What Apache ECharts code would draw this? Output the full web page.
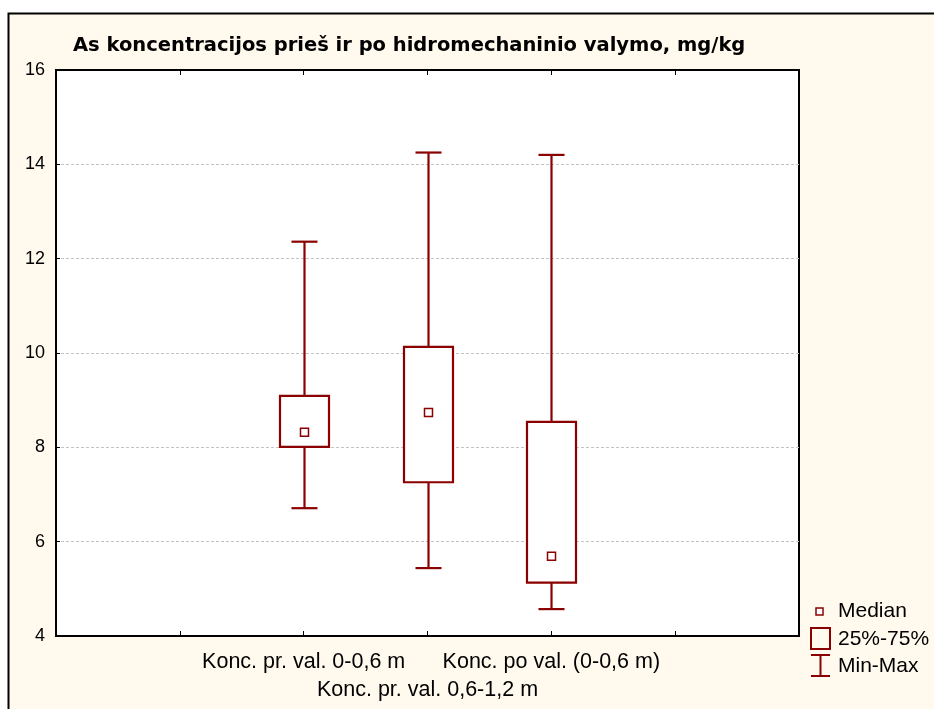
<!DOCTYPE html>
<html>
<head>
<meta charset="utf-8">
<script src="https://cdn.jsdelivr.net/npm/echarts@6/dist/echarts.min.js"></script>
<style>
html,body{margin:0;padding:0;background:#fff;}
#c{width:934px;height:709px;}
</style>
</head>
<body>
<div id="c"></div>
<script>
// ---- data ----
const titleText = 'As koncentracijos prieš ir po hidromechaninio valymo, mg/kg';
const categories = ['Konc. pr. val. 0-0,6 m', 'Konc. pr. val. 0,6-1,2 m', 'Konc. po val. (0-0,6 m)'];
const minValues    = [6.71, 5.44, 4.57];
const q1Values     = [8.01, 7.26, 5.13];
const medianValues = [8.32, 8.74, 5.69];
const q3Values     = [9.09, 10.13, 8.54];
const maxValues    = [12.36, 14.25, 14.20];
const yTicks = [4, 6, 8, 10, 12, 14, 16];
const legendLabels = ['Median', '25%-75%', 'Min-Max'];

// axis slots: two empty slots on each side of the three groups
const pad = ['', ''];
const xSlots = pad.concat(categories, pad);
const seriesData = categories.map((c, i) => [i + pad.length, minValues[i], q1Values[i], medianValues[i], q3Values[i], maxValues[i]]);

const RED = '#8b0000';
const FONT = 'Liberation Sans, Arial, sans-serif';

const chart = echarts.init(document.getElementById('c'), null, {renderer: 'canvas'});

function renderBox(params, api) {
  const xi = api.value(0);
  const pMin = api.coord([xi, api.value(1)]);
  const pQ1 = api.coord([xi, api.value(2)]);
  const pMed = api.coord([xi, api.value(3)]);
  const pQ3 = api.coord([xi, api.value(4)]);
  const pMax = api.coord([xi, api.value(5)]);
  const cx = Math.round(pMed[0]) + 0.5;
  const bw = 49, cw = 26, ms = 8;
  const ls = {stroke: RED, lineWidth: 2.2, fill: null};
  return {
    type: 'group',
    children: [
      {type: 'line', shape: {x1: cx, y1: pQ3[1], x2: cx, y2: pMax[1]}, style: ls},
      {type: 'line', shape: {x1: cx, y1: pQ1[1], x2: cx, y2: pMin[1]}, style: ls},
      {type: 'line', shape: {x1: cx - cw / 2, y1: pMax[1], x2: cx + cw / 2, y2: pMax[1]}, style: ls},
      {type: 'line', shape: {x1: cx - cw / 2, y1: pMin[1], x2: cx + cw / 2, y2: pMin[1]}, style: ls},
      {type: 'rect', shape: {x: cx - bw / 2, y: pQ3[1], width: bw, height: pQ1[1] - pQ3[1]}, style: {stroke: RED, lineWidth: 2.2, fill: '#fff'}},
      {type: 'rect', shape: {x: cx - ms / 2, y: pMed[1] - ms / 2, width: ms, height: ms}, style: {stroke: RED, lineWidth: 1.5, fill: '#fff'}}
    ]
  };
}

const legendX = 811;
const option = {
  animation: false,
  backgroundColor: '#fff',
  title: {
    text: titleText,
    left: 68,
    top: 31,
    textStyle: {fontFamily: 'DejaVu Sans', fontSize: 19.5, fontWeight: 'bold', color: '#000'}
  },
  grid: {
    left: 56, right: 135, top: 70, bottom: 73,
    show: true, backgroundColor: '#fff', borderColor: '#000', borderWidth: 2
  },
  xAxis: [{
    type: 'category',
    data: xSlots,
    boundaryGap: false,
    position: 'bottom',
    axisLine: {show: true, lineStyle: {color: '#000', width: 2}},
    axisTick: {show: true, inside: true, length: 5, interval: 0, lineStyle: {color: '#000', width: 1}},
    axisLabel: {
      interval: 0, margin: 12, fontFamily: FONT, fontSize: 21.5, color: '#000', lineHeight: 28,
      formatter: (v, i) => (i === 3 ? '\n' + v : v)
    },
    splitLine: {show: false}
  }, {
    type: 'category',
    data: xSlots,
    boundaryGap: false,
    position: 'top',
    axisLine: {show: true, lineStyle: {color: '#000', width: 2}},
    axisTick: {show: true, inside: true, length: 5, interval: 0, lineStyle: {color: '#000', width: 1}},
    axisLabel: {show: false},
    splitLine: {show: false}
  }],
  yAxis: {
    type: 'value',
    min: yTicks[0], max: yTicks[yTicks.length - 1], interval: 2,
    axisLine: {show: true, lineStyle: {color: '#000', width: 2}},
    axisTick: {show: true, inside: true, length: 4, lineStyle: {color: '#000'}},
    axisLabel: {margin: 11, fontFamily: FONT, fontSize: 18, color: '#000'},
    splitLine: {show: true, lineStyle: {color: '#c4c4c4', type: [3, 2], width: 1}}
  },
  series: [{
    type: 'custom',
    name: '25%-75%',
    xAxisIndex: 0,
    renderItem: renderBox,
    encode: {x: 0, y: [1, 2, 3, 4, 5]},
    data: seriesData,
    z: 5
  }],
  graphic: [
    {type: 'rect', z: -10, silent: true, shape: {x: 8.5, y: 13.5, width: 1000, height: 1000},
     style: {fill: '#fff9ee', stroke: '#000', lineWidth: 2}},
    // legend keys
    {type: 'rect', shape: {x: legendX + 5, y: 608, width: 7, height: 7}, style: {fill: '#fff', stroke: RED, lineWidth: 1.5}},
    {type: 'rect', shape: {x: legendX, y: 628, width: 19, height: 21}, style: {fill: null, stroke: RED, lineWidth: 2}},
    {type: 'line', shape: {x1: legendX + 9.5, y1: 655, x2: legendX + 9.5, y2: 676}, style: {stroke: RED, lineWidth: 2}},
    {type: 'line', shape: {x1: legendX, y1: 655, x2: legendX + 19, y2: 655}, style: {stroke: RED, lineWidth: 2}},
    {type: 'line', shape: {x1: legendX, y1: 676, x2: legendX + 19, y2: 676}, style: {stroke: RED, lineWidth: 2}},
    {type: 'text', left: 838, top: 601, style: {text: legendLabels[0], font: '21px ' + FONT, fill: '#000'}},
    {type: 'text', left: 838, top: 629, style: {text: legendLabels[1], font: '21px ' + FONT, fill: '#000'}},
    {type: 'text', left: 838, top: 656, style: {text: legendLabels[2], font: '21px ' + FONT, fill: '#000'}}
  ]
};
chart.setOption(option);
</script>
</body>
</html>
